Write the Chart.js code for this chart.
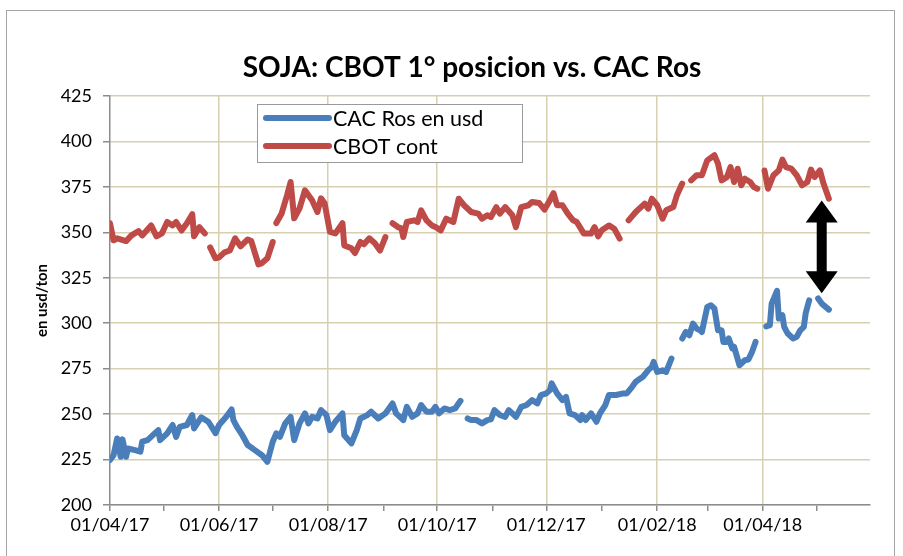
<!DOCTYPE html>
<html>
<head>
<meta charset="utf-8">
<script src="https://cdn.jsdelivr.net/npm/chart.js@4"></script>
<style>
  html, body { margin: 0; padding: 0; background: #fff; }
  canvas { display: block; }
</style>
</head>
<body>
<canvas id="sojaChart" width="903" height="556"></canvas>
<script>
// Days since 01/04/17 and prices (usd/ton), null = hueco en la serie
const cbotDia = [0, 2, 4, 9, 12, 16, 18, 23, 26, 29, 32, 35, 37, 40, 43, 46, 47, 50, 53, 55,
  56, 59, 61, 64, 67, 70, 73, 77, 79, 83, 85, 88, 91, 92,
  93, 96, 99, 101, 103, 106, 109, 113, 116, 118, 120, 123, 126, 130, 131, 135, 137, 140, 142, 145, 148, 151, 154, 156,
  158, 161, 163, 164, 166, 170, 172, 174, 177, 180, 182, 185, 188, 192, 195, 198, 202, 206, 208, 211, 213, 216, 218,
  221, 225, 227, 230, 234, 236, 240, 243, 246, 248, 250, 253, 256, 259, 261, 265, 269, 271, 273, 275, 279, 282, 285, 287,
  290, 294, 299, 301, 303, 306, 309, 311, 315, 317, 320, 322,
  325, 328, 331, 334, 338, 340, 342, 345, 347, 349, 351, 353, 355, 358, 360, 362, 363,
  366, 368, 371, 374, 376, 378, 381, 384, 387, 390, 392, 394, 397, 399, 402];
const cbotVal = [355, 345.6, 346.7, 345.2, 348.3, 350.7, 348.3, 353.8, 347.8, 349.4, 355.7, 353.8, 355.7, 351, 355, 360, 347.8, 352.9, 349.4, null,
  341.7, 335.7, 336.2, 339, 340, 346.7, 342.3, 346.1, 345.2, 332.4, 333.1, 335.7, 344.7, null,
  355.1, 360.4, 370.4, 377.7, 357.7, 363.2, 373.1, 367.6, 361.2, 368.7, 366, 350.2, 349.4, 355, 342.8, 341.2, 338.6, 344.7, 343.4, 346.7, 344.1, 340, 347.4, null,
  355, 352.9, 352.2, 347.4, 355.7, 356.6, 355.7, 362.1, 356.6, 353.8, 352.9, 351.1, 357.5, 355.7, 368.5, 364.9, 361.2, 360.3, 357.5, 359.4, 358.4, 363.9, 360.3,
  363.9, 359.4, 352.9, 363.9, 364.9, 366.7, 366.1, 362.5, 367.6, 371.6, 364.9, 364.9, 360.3, 356.6, 355.7, 349.3, 349.3, 352.9, 347.8, 351.1, 353.8, 352, 346.5, null,
  356.6, 361.2, 365.8, 363, 368.5, 364.9, 357.5, 362.1, 363.9, 370.4, 376.8, null,
  378.6, 381.4, 381.4, 389.6, 392.4, 387.8, 378.6, 380.4, 385.9, 377.7, 385, 375.9, 379.5, 377.7, 374.9, 374, null,
  384, 374, 381.4, 384.1, 390, 385.9, 385, 381.4, 375.9, 377.7, 384.5, 380.4, 384.1, 376.8, 368.5];

const cacDia = [0, 2, 4, 6, 7, 9, 10, 14, 17, 18, 21, 25, 27, 28, 32, 35, 37, 39, 43, 46, 47, 51, 55, 59, 61, 65, 68, 69,
  71, 74, 77, 81, 85, 88, 91, 93, 95, 98, 101, 103, 106, 109, 111, 113, 116, 118, 121, 123, 126, 130, 131, 135, 138, 140,
  144, 146, 150, 154, 158, 160, 164, 166, 169, 172, 174, 177, 180, 182, 184, 187, 190, 193, 196, 198,
  200, 202, 205, 208, 211, 213, 215, 218, 221, 223, 225, 227, 230, 233, 236, 239, 241, 244, 246, 247, 250, 253, 255, 257,
  260, 263, 264, 266, 269, 272, 274, 277, 279, 283, 287, 289, 292, 294, 298, 301, 303, 304, 306, 309, 311, 314, 317,
  320, 322, 324, 326, 328, 330, 331, 334, 336, 338, 340, 342, 343, 345, 346, 348, 349, 352, 355, 357, 359, 361, 363,
  367, 369, 370, 373, 374, 376, 377, 379, 382, 384, 386, 388, 389, 391, 393,
  396, 398, 402];
const cacVal = [224.7, 227.4, 236.6, 226.5, 236.1, 226.5, 231.1, 230.2, 229.3, 234.8, 235.7, 239.4, 241.2, 235.7, 239.4, 244, 237.5, 243, 244, 249.5, 242.1, 248.2, 245.8, 239.5, 244, 248.5, 252.6, 246.7,
  243, 238.4, 233, 230.2, 227.4, 223.8, 234.8, 239.4, 237.5, 244.9, 248.5, 235.7, 244.9, 250.4, 244.9, 248.5, 247.6, 252.2, 249.5, 241.2, 245.8, 250.4, 238.4, 233.9, 241.2, 247.6,
  249.5, 251.3, 247.6, 250.4, 255.9, 250.4, 246.7, 254, 248.5, 250.4, 255, 251.3, 251.3, 254, 250.4, 253.1, 252.2, 253.1, 257.3, null,
  247.6, 246.7, 246.7, 244.9, 246.7, 247.1, 252.2, 249.5, 248.5, 252.2, 250.4, 248.5, 254, 255, 257.7, 255.9, 260.5, 261.4, 263.2, 266.9, 261.4, 257.7, 259.5, 250.4,
  249.5, 246.7, 249.5, 246.7, 250.4, 245.8, 250.4, 255, 260.5, 260.5, 261.4, 261.4, 265, 267.8, 270.5, 274.2, 276, 278.7, 273.2, 274.1, 273.2, 280.6, null,
  291.6, 295.2, 293.4, 299.8, 297.1, 296.1, 295.2, 309, 309.9, 308.1, 296.1, 296.1, 289.7, 289.7, 291.6, 286.1, 287, 276.9, 279.6, 280, 284.2, 289.7, null,
  298.3, 298.9, 310.8, 317.8, 302.6, 304.4, 298, 294.3, 291.6, 292.5, 296.1, 298, 305.3, 312.6, null,
  313.6, 310.8, 307.5];

// Ejes
const tickDias = [0, 30, 61, 91, 122, 153, 183, 214, 244, 275, 306, 334, 365, 395];
const tickLabels = ['01/04/17', '', '01/06/17', '', '01/08/17', '', '01/10/17', '', '01/12/17', '', '01/02/18', '', '01/04/18', ''];
const diaMax = 425;

// Flecha (brecha CBOT - CAC)
const flechaDia = 398;
const flechaArriba = 367.5;
const flechaAbajo = 316.5;

const titulo = 'SOJA: CBOT 1° posicion vs. CAC Ros';

const toPoints = (dias, vals) => dias.map((d, i) => ({ x: d, y: vals[i] }));

const gridColor = '#d6d0b1';
const axisColor = '#8c8c8c';
const fontFamily = 'Lato, "Open Sans", sans-serif';

// title sits a bit right of the canvas centre, as in the Excel chart
const titlePlugin = {
  id: 'titulo',
  afterDraw(chart) {
    const ctx = chart.ctx;
    ctx.save();
    ctx.font = 'bold 28px ' + fontFamily;
    ctx.fillStyle = '#000';
    ctx.textAlign = 'center';
    ctx.textBaseline = 'middle';
    ctx.fillText(titulo, 472, 68);
    ctx.restore();
  }
};

// legend box inside the plot, like the Excel one
const legendPlugin = {
  id: 'leyenda',
  afterDraw(chart) {
    const ctx = chart.ctx;
    ctx.save();
    ctx.fillStyle = '#fff';
    ctx.strokeStyle = '#9a9a9a';
    ctx.lineWidth = 1;
    ctx.fillRect(257.5, 104.5, 265, 58);
    ctx.strokeRect(257.5, 104.5, 265, 58);
    ctx.font = '21.5px ' + fontFamily;
    ctx.textBaseline = 'middle';
    chart.data.datasets.forEach((ds, i) => {
      const y = 118 + i * 28;
      ctx.strokeStyle = ds.borderColor;
      ctx.lineWidth = 6;
      ctx.lineCap = 'round';
      ctx.beginPath();
      ctx.moveTo(266, y);
      ctx.lineTo(329, y);
      ctx.stroke();
      ctx.fillStyle = '#000';
      ctx.fillText(ds.label, 333, y + 1);
    });
    ctx.restore();
  }
};

const arrowPlugin = {
  id: 'flecha',
  afterDatasetsDraw(chart) {
    const { ctx, scales } = chart;
    const x = scales.x.getPixelForValue(flechaDia);
    const yTop = scales.y.getPixelForValue(flechaArriba);
    const yBot = scales.y.getPixelForValue(flechaAbajo);
    const shaft = 5, head = 16, headLen = 22;
    ctx.save();
    ctx.fillStyle = '#000';
    ctx.beginPath();
    ctx.moveTo(x, yTop);
    ctx.lineTo(x + head, yTop + headLen);
    ctx.lineTo(x + shaft, yTop + headLen);
    ctx.lineTo(x + shaft, yBot - headLen);
    ctx.lineTo(x + head, yBot - headLen);
    ctx.lineTo(x, yBot);
    ctx.lineTo(x - head, yBot - headLen);
    ctx.lineTo(x - shaft, yBot - headLen);
    ctx.lineTo(x - shaft, yTop + headLen);
    ctx.lineTo(x - head, yTop + headLen);
    ctx.closePath();
    ctx.fill();
    ctx.restore();
  }
};

const borderPlugin = {
  id: 'marco',
  beforeDraw(chart) {
    const ctx = chart.ctx;
    ctx.save();
    ctx.fillStyle = '#fff';
    ctx.fillRect(0, 0, chart.width, chart.height);
    ctx.strokeStyle = '#a6a6a6';
    ctx.lineWidth = 1;
    ctx.strokeRect(6.5, 10.5, 888, 600);
    ctx.restore();
  }
};

const sojaChart = new Chart(document.getElementById('sojaChart'), {
  type: 'line',
  data: {
    datasets: [
      {
        label: 'CAC Ros en usd',
        data: toPoints(cacDia, cacVal),
        borderColor: '#4a7ebb',
        borderWidth: 6,
        pointRadius: 0,
        tension: 0,
        borderCapStyle: 'round',
        borderJoinStyle: 'round',
        spanGaps: false
      },
      {
        label: 'CBOT cont',
        data: toPoints(cbotDia, cbotVal),
        borderColor: '#be4b48',
        borderWidth: 6,
        pointRadius: 0,
        tension: 0,
        borderCapStyle: 'round',
        borderJoinStyle: 'round',
        spanGaps: false
      }
    ]
  },
  options: {
    responsive: false,
    animation: false,
    devicePixelRatio: 1,
    layout: { padding: { left: 30, right: 33, top: 96, bottom: 0 } },
    plugins: {
      legend: { display: false },
      tooltip: { enabled: false },
      title: { display: false }
    },
    scales: {
      x: {
        type: 'linear',
        min: 0,
        max: diaMax,
        afterBuildTicks: (scale) => {
          scale.ticks = tickDias.map(d => ({ value: d }));
        },
        afterFit: (scale) => { scale.height = 51; },
        ticks: {
          autoSkip: false,
          maxRotation: 0,
          padding: 3,
          color: '#000',
          font: { family: fontFamily, size: 18 },
          callback: (value, index) => tickLabels[index]
        },
        grid: {
          color: (c) => (c.index % 2 === 0 && c.index > 0) ? gridColor : 'rgba(0,0,0,0)',
          tickColor: axisColor,
          tickLength: 6,
          lineWidth: 1.5
        },
        border: { color: axisColor, width: 1.5 }
      },
      y: {
        min: 200,
        max: 425,
        afterFit: (scale) => { scale.width = 80; },
        ticks: {
          stepSize: 25,
          padding: 11,
          color: '#000',
          font: { family: fontFamily, size: 18 }
        },
        grid: {
          color: gridColor,
          tickColor: axisColor,
          tickLength: 7,
          lineWidth: 1.5
        },
        border: { color: axisColor, width: 1.5 },
        title: {
          display: true,
          text: 'en usd/ton',
          color: '#000',
          font: { family: fontFamily, size: 15, weight: 'bold', lineHeight: 1.2 },
          padding: { top: 3, bottom: 0 }
        }
      }
    }
  },
  plugins: [borderPlugin, titlePlugin, legendPlugin, arrowPlugin]
});
</script>
</body>
</html>
